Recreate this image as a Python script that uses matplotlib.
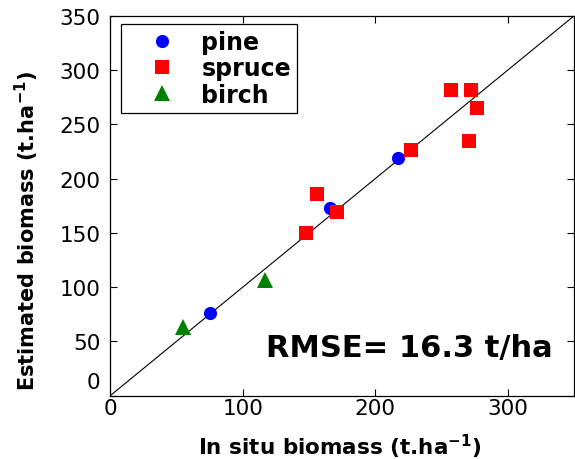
import numpy as np
import matplotlib
matplotlib.use('Agg')
import matplotlib.pyplot as plt
from matplotlib.transforms import ScaledTranslation

plt.rcParams.update({
    'font.family': ['DejaVu Sans'],
    'mathtext.fontset': 'dejavusans',
})

# in situ vs. estimated stand biomass (t/ha)
pine_obs = [75.5, 166, 217]
pine_est = [76.5, 173, 219]
spruce_obs = [148, 156, 171, 227, 257, 272, 276.5, 271]
spruce_est = [150, 186, 169, 226, 282, 282, 265, 235]
birch_obs = [54.7, 117]
birch_est = [63, 107]
rmse = 16.3
yticks = [0, 50, 100, 150, 200, 250, 300, 350]
xticks = [0, 100, 200, 300]

W, H = 575, 460
fig = plt.figure(figsize=(W / 100, H / 100), dpi=100)
ax = fig.add_axes([0.192, 0.138, 0.806, 0.825])

ax.plot([0, 350], [0, 350], color='black', linewidth=0.8, zorder=1)
ax.plot(pine_obs, pine_est, 'o', color='#0000ff', markersize=9.5,
        markeredgewidth=0, label='pine', zorder=3)
ax.plot(spruce_obs, spruce_est, 's', color='#ff0000', markersize=10,
        markeredgewidth=0, label='spruce', zorder=3)
ax.plot(birch_obs, birch_est, '^', color='#008000', markersize=11,
        markeredgewidth=0, label='birch', zorder=3)

ax.set_xlim(0, 350)
ax.set_ylim(0, 350)
ax.set_xticks(xticks)
ax.set_yticks(yticks)
ax.tick_params(direction='in', length=5, width=0.8, top=True, right=True,
               labelsize=15.5)
ax.tick_params(axis='x', pad=2)
ax.tick_params(axis='y', pad=7)
for s in ax.spines.values():
    s.set_linewidth(0.9)

# lift the y=0 label clear of the x=0 label
lab0 = ax.get_yticklabels()[0]
lab0.set_transform(lab0.get_transform() +
                   ScaledTranslation(0, 0.155, fig.dpi_scale_trans))

ax.set_xlabel('In situ biomass (t.ha$^{\\mathbf{-1}}$)', fontsize=15.5,
              fontweight='bold', va='baseline')
ax.xaxis.set_label_coords(0.495, -0.154)
ax.set_ylabel('Estimated biomass (t.ha$^{\\mathbf{-1}}$)', fontsize=15,
              fontweight='bold', va='baseline')
ax.yaxis.set_label_coords(-0.163, 0.436)

leg = ax.legend(loc='upper left', bbox_to_anchor=(121 / W, 1 - 25 / H),
                bbox_transform=fig.transFigure, borderaxespad=0,
                fancybox=False, framealpha=1, edgecolor='black',
                prop={'weight': 'bold', 'size': 17}, handlelength=3.0,
                handletextpad=0.15, labelspacing=0.1, borderpad=0.25)
leg.get_frame().set_linewidth(0.9)

ax.text(0.955, 0.104, f'RMSE= {rmse} t/ha', transform=ax.transAxes,
        ha='right', va='baseline', fontsize=22, fontweight='bold')

fig.savefig('out.png', dpi=100)
